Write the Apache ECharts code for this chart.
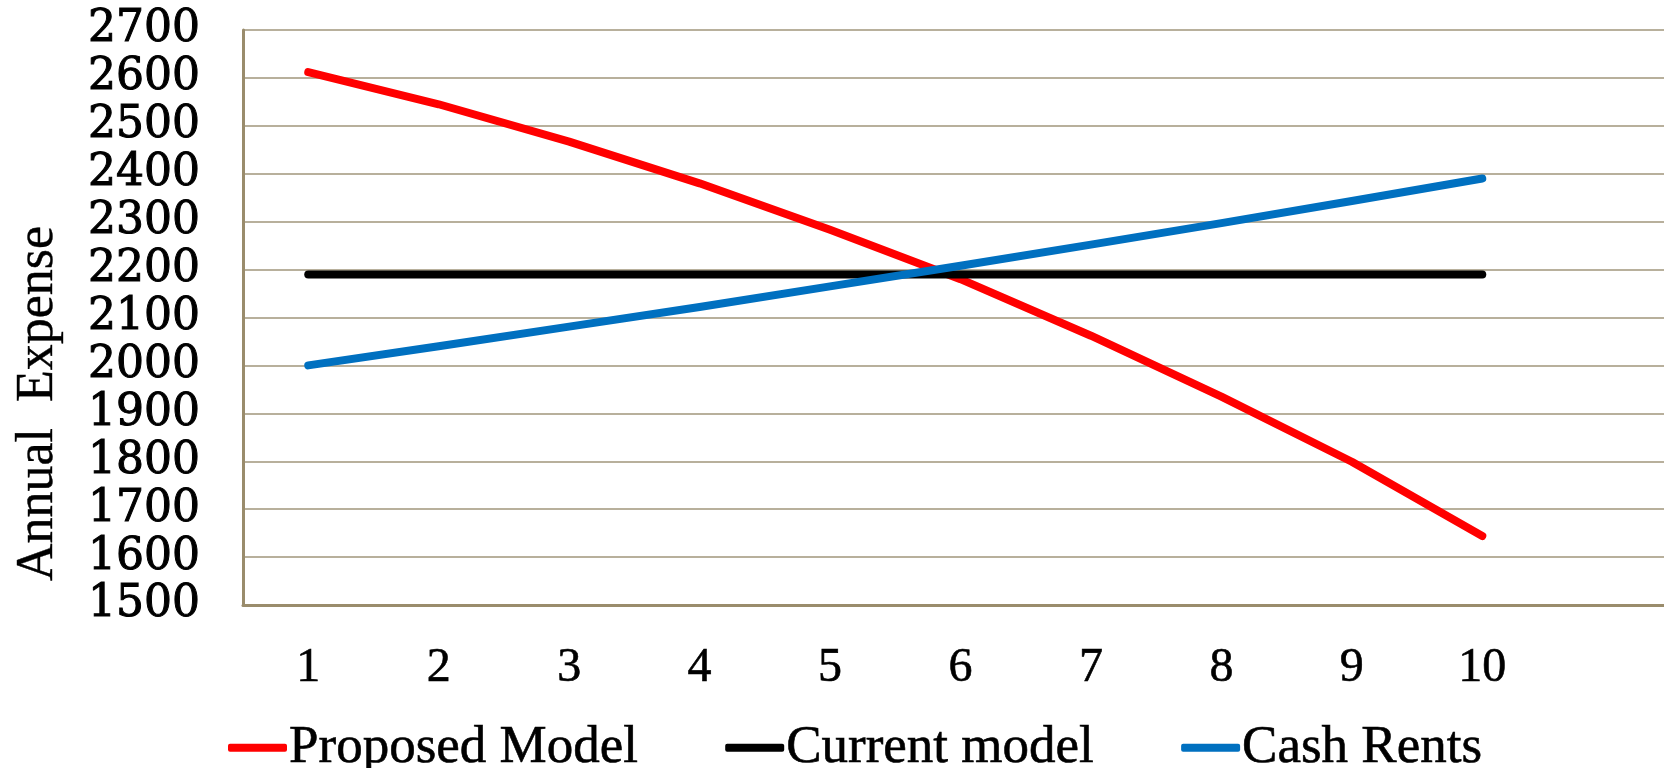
<!DOCTYPE html>
<html>
<head>
<meta charset="utf-8">
<script src="https://cdn.jsdelivr.net/npm/echarts@6/dist/echarts.min.js"></script>
<style>html,body{margin:0;padding:0;background:#fff}#c{width:1664px;height:768px}</style>
</head>
<body>
<div id="c"></div>
<script>
var years = [1, 2, 3, 4, 5, 6, 7, 8, 9, 10];
var proposedModel = [2612, 2545, 2467, 2380, 2283, 2180, 2062, 1935, 1799, 1644];
var currentModel = [2190, 2190, 2190, 2190, 2190, 2190, 2190, 2190, 2190, 2190];
var cashRents = [2000, 2040, 2081, 2122, 2165, 2208, 2252, 2297, 2343, 2390];
var seriesNames = ['Proposed Model', 'Current model', 'Cash Rents'];
var seriesColors = ['#ff0000', '#000000', '#0070c0'];
var yAxisName = 'Annual  Expense';

var chart = echarts.init(document.getElementById('c'), null, {renderer: 'canvas'});
function pairs(vals) { return vals.map(function (v, i) { return [years[i], v]; }); }
function mk(name, data, color) {
  return {
    name: name, type: 'line', data: pairs(data), symbol: 'none', smooth: false,
    lineStyle: {color: color, width: 8, cap: 'round', join: 'round'},
    itemStyle: {color: color},
    emphasis: {disabled: true}
  };
}
chart.setOption({
  animation: false,
  backgroundColor: '#ffffff',
  grid: {left: 243, top: 30, bottom: 163, right: 0, containLabel: false},
  legend: {
    left: 228, top: 721, padding: 0,
    itemWidth: 59, itemHeight: 8, itemGap: 87,
    icon: 'roundRect',
    textStyle: {fontFamily: 'Liberation Serif', fontSize: 53, color: '#000', padding: [0,0,0,-3],
      textBorderColor: '#000', textBorderWidth: 0.6},
    data: seriesNames.map(function (n, i) { return {name: n, icon: 'roundRect', itemStyle: {color: seriesColors[i]}}; })
  },
  xAxis: {
    type: 'value', min: 0.5, max: 11.393, interval: 0.5,
    axisLine: {lineStyle: {color: '#9a8c6c', width: 3}},
    axisTick: {show: false},
    axisLabel: {fontFamily: 'Liberation Serif', fontSize: 48, color: '#000', margin: 39,
      textBorderColor: '#000', textBorderWidth: 0.6,
      showMinLabel: true, showMaxLabel: false, hideOverlap: false,
      formatter: function (v) { return (Math.abs(v - Math.round(v)) < 1e-6 && years.indexOf(Math.round(v)) >= 0) ? String(Math.round(v)) : ''; }
    },
    splitLine: {show: false}
  },
  yAxis: {
    type: 'value', min: 1500, max: 2700, interval: 100,
    name: yAxisName, nameLocation: 'middle', nameGap: 179, nameRotate: 90,
    nameTextStyle: {fontFamily: 'Liberation Serif', fontSize: 52, color: '#000', padding: [0, 172, 0, 0],
      textBorderColor: '#000', textBorderWidth: 0.4},
    axisLine: {show: true, lineStyle: {color: '#9a8c6c', width: 3}},
    axisTick: {show: false},
    axisLabel: {
      fontFamily: 'DejaVu Serif', fontSize: 44, color: '#000', margin: 43,
      textBorderColor: '#000', textBorderWidth: 1,
      showMinLabel: true, showMaxLabel: true, hideOverlap: false,
      formatter: function (v) { return String(v); }
    },
    splitLine: {show: true, lineStyle: {color: '#b8b09c', width: 2}}
  },
  series: [
    mk(seriesNames[0], proposedModel, seriesColors[0]),
    mk(seriesNames[1], currentModel, seriesColors[1]),
    mk(seriesNames[2], cashRents, seriesColors[2])
  ]
});
</script>
</body>
</html>
